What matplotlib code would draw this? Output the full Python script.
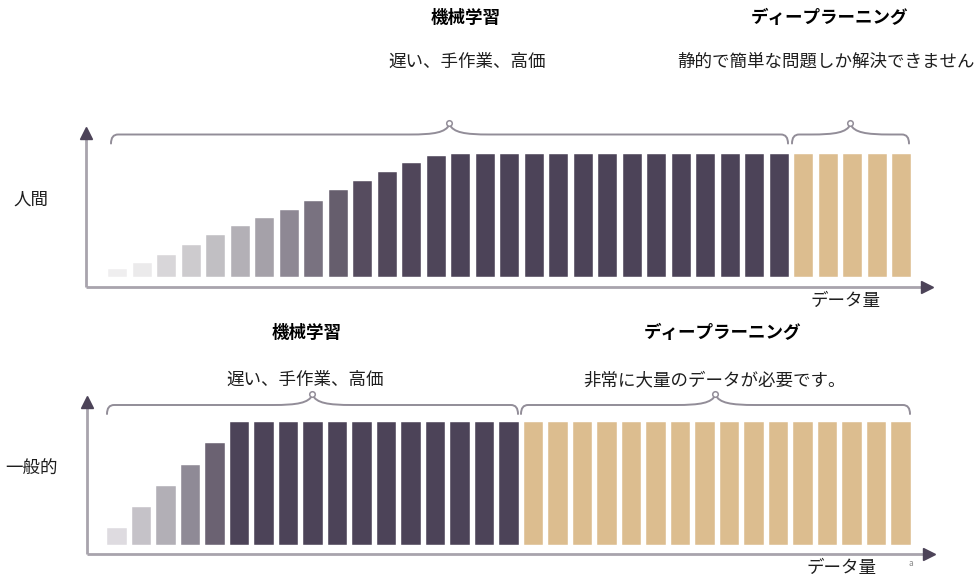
import matplotlib.pyplot as plt
import numpy as np
from matplotlib.path import Path
from matplotlib.patches import PathPatch

plt.rcParams["font.family"] = ["Noto Sans CJK JP", "DejaVu Sans"]

# bar heights, as a share of the plateau (100)
human_values = [6, 11, 18, 25.5, 34, 41, 47.5, 54, 62, 70.5, 78, 85, 93, 98.5] + [100] * 14 + [100] * 5
general_values = [14, 31, 48, 65, 83] + [100] * 12 + [100] * 16

human_ml_count = 28
general_ml_count = 17

titles = ["機械学習", "ディープラーニング"]
human_notes = ["遅い、手作業、高価", "静的で簡単な問題しか解決できません"]
general_notes = ["遅い、手作業、高価", "非常に大量のデータが必要です。"]
ylabels = ["人間", "一般的"]
xlabel = "データ量"

# colours
DARK = "#4c4358"
TAN = "#dcbd8f"
AXIS = "#a8a4ad"
BRACE = "#928d98"
human_ramp = ["#efeeef", "#ebeaeb", "#d8d6d9", "#cdcbce", "#c1bfc3", "#b3b0b6",
              "#a5a1a9", "#8e8894", "#797280", "#665e6d", "#564c5f", "#52485b",
              "#50465a", "#4e4559"]
general_ramp = ["#dedbe0", "#c5c2c8", "#b2afb6", "#8f8a96", "#6b6272"]

W, H = 979, 581
PITCH = 24.5      # px between bar centres
UNIT = 1.226      # px per value unit
BAR_W = 0.79
FS = 12.6

fig = plt.figure(figsize=(W / 100, H / 100), dpi=100)


def make_axes(first_center_px, base_px, top_px, bottom_px):
    left_px, right_px = 40, 970
    ax = fig.add_axes([left_px / W, 1 - bottom_px / H,
                       (right_px - left_px) / W, (bottom_px - top_px) / H])
    ax.set_xlim((left_px - first_center_px) / PITCH, (right_px - first_center_px) / PITCH)
    ax.set_ylim((base_px - bottom_px) / UNIT, (base_px - top_px) / UNIT)
    ax.axis("off")
    return ax


def px_x(ax, px, first_center_px):
    return (px - first_center_px) / PITCH


def brace(ax, x0, x1, y, drop=9, rise=10):
    # curly brace in data coords, with sizes given in px
    dx = 1 / PITCH
    dy = 1 / UNIT
    xm = (x0 + x1) / 2
    verts = [
        (x0, y - drop * dy),
        (x0, y), (x0 + 7 * dx, y),
        (xm - 40 * dx, y),
        (xm - 15 * dx, y), (xm - 4 * dx, y + 2 * dy), (xm, y + rise * dy),
        (xm + 4 * dx, y + 2 * dy), (xm + 15 * dx, y), (xm + 40 * dx, y),
        (x1 - 7 * dx, y),
        (x1, y), (x1, y - drop * dy),
    ]
    codes = [Path.MOVETO, Path.CURVE3, Path.CURVE3, Path.LINETO,
             Path.CURVE4, Path.CURVE4, Path.CURVE4,
             Path.CURVE4, Path.CURVE4, Path.CURVE4,
             Path.LINETO, Path.CURVE3, Path.CURVE3]
    ax.add_patch(PathPatch(Path(verts, codes), fill=False, edgecolor=BRACE,
                           lw=1.4, clip_on=False, capstyle="round"))
    ax.plot([xm], [y + (rise + 1.5) * dy], "o", ms=4, mfc="white", mec=BRACE,
            mew=1.1, clip_on=False)


def draw_panel(ax, values, ml_count, ramp, first_center_px, axis_x_px,
               axis_y, y_tip, x_tip_px, brace_y, brace_spans):
    x = np.arange(len(values))
    colors = []
    for i in range(len(values)):
        if i < len(ramp):
            colors.append(ramp[i])
        elif i < ml_count:
            colors.append(DARK)
        else:
            colors.append(TAN)
    ax.bar(x, values, width=BAR_W, color=colors, edgecolor="white", linewidth=0.3)

    ax_x = px_x(ax, axis_x_px, first_center_px)
    tip_x = px_x(ax, x_tip_px, first_center_px)
    ax.plot([ax_x, ax_x], [axis_y, y_tip - 6], color=AXIS, lw=2, clip_on=False,
            solid_capstyle="butt")
    ax.plot([ax_x, tip_x - 0.4], [axis_y, axis_y], color=AXIS, lw=2, clip_on=False,
            solid_capstyle="butt")
    ax.plot([ax_x], [y_tip - 4], marker="^", ms=9, color=DARK, clip_on=False)
    ax.plot([tip_x - 0.25], [axis_y], marker=">", ms=9, color=DARK, clip_on=False)

    for (a, b) in brace_spans:
        brace(ax, px_x(ax, a, first_center_px), px_x(ax, b, first_center_px), brace_y)


# top panel: human
ax1 = make_axes(117.7, 276.7, 105, 300)
draw_panel(ax1, human_values, human_ml_count, human_ramp, 117.7, 86,
           -8.4, 121, 933, (276.7 - 134.5) / UNIT, [(111, 788), (792, 909)])

# bottom panel: general
ax2 = make_axes(117.0, 545.0, 375, 570)
draw_panel(ax2, general_values, general_ml_count, general_ramp, 117.0, 87,
           -7.4, 121, 935, (545 - 405) / UNIT, [(107, 518), (521, 910)])


def ftext(px, py, s, **kw):
    fig.text(px / W, 1 - py / H, s, ha="center", va="center", **kw)


# top texts
ftext(466, 18, titles[0], fontsize=FS, fontweight="bold", color="black")
ftext(829, 18, titles[1], fontsize=FS, fontweight="bold", color="black")
ftext(467, 62, human_notes[0], fontsize=FS, color="#1e1e1e")
ftext(826, 62, human_notes[1], fontsize=FS, color="#1e1e1e")
ftext(31, 200, ylabels[0], fontsize=FS, color="#1e1e1e")
ftext(846, 301, xlabel, fontsize=FS, color="#1e1e1e")

# bottom texts
ftext(307, 333, titles[0], fontsize=FS, fontweight="bold", color="black")
ftext(722, 333, titles[1], fontsize=FS, fontweight="bold", color="black")
ftext(305, 380, general_notes[0], fontsize=FS, color="#1e1e1e")
ftext(715, 380, general_notes[1], fontsize=FS, color="#1e1e1e")
ftext(31, 469, ylabels[1], fontsize=FS, color="#1e1e1e")
ftext(842, 568, xlabel, fontsize=FS, color="#1e1e1e")
ftext(911, 564, "a", fontsize=6, color="#888888")

fig.savefig("out.png", dpi=100, facecolor="white")
